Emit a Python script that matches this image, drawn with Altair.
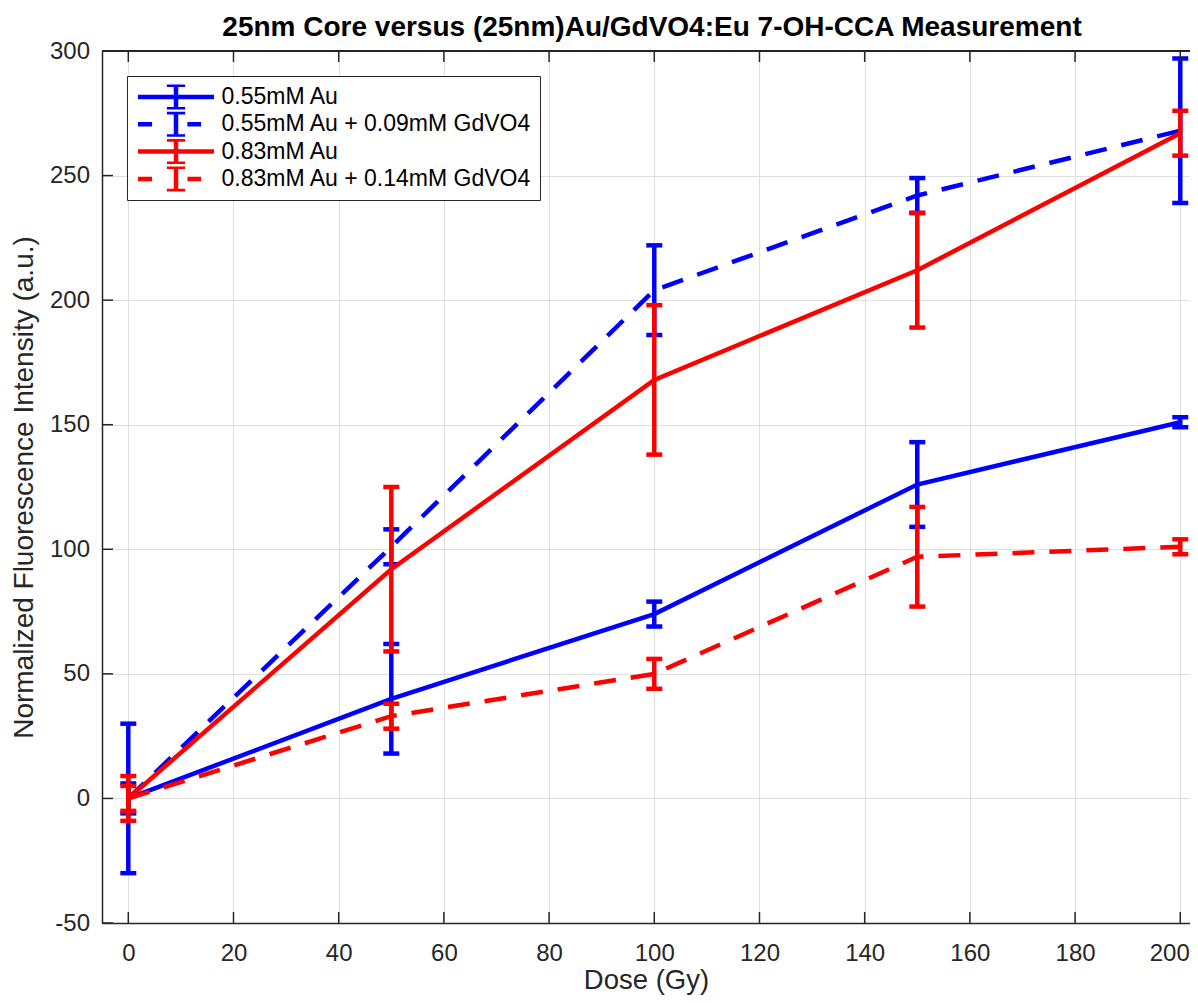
import altair as alt
import pandas as pd

# ---------------- data ----------------
doses = [0, 50, 100, 150, 200]

series_names = [
    "0.55mM Au",
    "0.55mM Au + 0.09mM GdVO4",
    "0.83mM Au",
    "0.83mM Au + 0.14mM GdVO4",
]

au055_mean = [0, 40, 74, 126, 151]
au055_err = [30, 22, 5, 17, 2]

au055_gd_mean = [0, 101, 204, 242, 268]
au055_gd_err = [6, 7, 18, 7, 29]

au083_mean = [0, 92, 168, 212, 267]
au083_err = [9, 33, 30, 23, 9]

au083_gd_mean = [0, 33, 50, 97, 101]
au083_gd_err = [5, 5, 6, 20, 3]

series_colors = ["#0000ff", "#0000ff", "#ff0000", "#ff0000"]
series_dashed = [False, True, False, True]

x_ticks = [0, 20, 40, 60, 80, 100, 120, 140, 160, 180, 200]
y_ticks = [-50, 0, 50, 100, 150, 200, 250, 300]

title_text = "25nm Core versus (25nm)Au/GdVO4:Eu 7-OH-CCA Measurement"
x_title = "Dose (Gy)"
y_title = "Normalized Fluorescence Intensity (a.u.)"

# ---------------- table ----------------
means = [au055_mean, au055_gd_mean, au083_mean, au083_gd_mean]
errs = [au055_err, au055_gd_err, au083_err, au083_gd_err]
rows = []
for name, m, e in zip(series_names, means, errs):
    for d, mv, ev in zip(doses, m, e):
        rows.append({"series": name, "dose": d, "mean": mv, "lo": mv - ev, "hi": mv + ev})
df = pd.DataFrame(rows)

FONT = "Liberation Sans"
AX = "#262626"
LW = 4.5
W = 1088
H = 872

x_scale = alt.Scale(domain=[-5, 201.85], nice=False, zero=False)
y_scale = alt.Scale(domain=[-50, 300], nice=False, zero=False)

x_axis = alt.Axis(
    values=x_ticks, grid=True, gridColor="#dfdfdf", gridWidth=1,
    ticks=False, domain=True, domainColor=AX, domainWidth=1.5,
    labelFont=FONT, labelFontSize=24, labelColor=AX, labelPadding=18,
    labelFlush=False, labelOverlap=False,
    labelOffset={"condition": {"test": "datum.value === 200", "value": -11}, "value": 0},
    title=x_title, titleFont=FONT, titleFontSize=27.5, titleFontWeight="normal",
    titleColor=AX, titleBaseline="alphabetic", titleY=65,
)
y_axis = alt.Axis(
    values=y_ticks, grid=True, gridColor="#dfdfdf", gridWidth=1,
    ticks=False, domain=True, domainColor=AX, domainWidth=1.5,
    labelFont=FONT, labelFontSize=24, labelColor=AX, labelPadding=12.5,
    labelFlush=False, labelOverlap=False, labelExpr="'' + datum.value",
    title=y_title, titleFont=FONT, titleFontSize=28, titleFontWeight="normal",
    titleColor=AX, titlePadding=10.5,
)


def X(field):
    return alt.X(field, scale=x_scale, axis=x_axis)


def Y(field):
    return alt.Y(field, scale=y_scale, axis=y_axis)


layers = []

# series: line + error bars (drawn in MATLAB plotting order)
for name, col, dashed in zip(series_names, series_colors, series_dashed):
    sub = alt.Chart(df).transform_filter(alt.datum.series == name)
    line_kwargs = dict(color=col, strokeWidth=LW)
    if dashed:
        line_kwargs["strokeDash"] = [22, 15]
    layers.append(sub.mark_line(**line_kwargs).encode(x=X("dose:Q"), y=Y("mean:Q")))
    layers.append(
        sub.mark_rule(color=col, strokeWidth=LW).encode(x=X("dose:Q"), y=Y("lo:Q"), y2="hi:Q")
    )
    for fld in ["lo", "hi"]:
        layers.append(
            sub.mark_rule(color=col, strokeWidth=LW, xOffset=-8, x2Offset=8).encode(
                x=X("dose:Q"), x2="dose:Q", y=Y(f"{fld}:Q")
            )
        )

# top frame line and inward tick marks (MATLAB box axes)
xt = pd.DataFrame({"v": x_ticks})
yt = pd.DataFrame({"v": y_ticks})
layers.append(
    alt.Chart(xt).mark_rule(color=AX, strokeWidth=1.5).encode(
        x=alt.value(0), x2=alt.value(W), y=alt.value(0)
    )
)
layers.append(
    alt.Chart(xt).mark_rule(color=AX, strokeWidth=1.5).encode(
        x=X("v:Q"), y=alt.value(H), y2=alt.value(H - 11)
    )
)
layers.append(
    alt.Chart(xt).mark_rule(color=AX, strokeWidth=1.5).encode(
        x=X("v:Q"), y=alt.value(0), y2=alt.value(11)
    )
)
layers.append(
    alt.Chart(yt).mark_rule(color=AX, strokeWidth=1.5).encode(
        y=Y("v:Q"), x=alt.value(0), x2=alt.value(11)
    )
)

# legend carrier (invisible points, custom errorbar-style legend symbols)
solid_sym = "M-1,0H1M0,-0.32V0.32M-0.24,-0.32H0.24M-0.24,0.32H0.24"
dash_sym = "M-1,0H-0.63M0.3,0H0.66M0,-0.32V0.32M-0.24,-0.32H0.24M-0.24,0.32H0.24"
series_shapes = [dash_sym if d else solid_sym for d in series_dashed]

leg = alt.Legend(title=None)
layers.append(
    alt.Chart(df).mark_point(filled=False, strokeWidth=LW, size=0, opacity=1).encode(
        x=X("dose:Q"),
        y=Y("mean:Q"),
        color=alt.Color("series:N", scale=alt.Scale(domain=series_names, range=series_colors), legend=leg),
        shape=alt.Shape("series:N", scale=alt.Scale(domain=series_names, range=series_shapes), legend=leg),
    )
)

chart = alt.layer(*layers).properties(
    width=W,
    height=H,
    autosize=alt.AutoSizeParams(type="none"),
    padding={"left": 94, "top": 43, "right": 0, "bottom": 72},
    title=alt.TitleParams(
        text=title_text, font=FONT, fontSize=28, fontWeight="bold",
        color="black", anchor="middle", offset=9, dy=12, dx=6,
    ),
).configure_view(stroke=None).configure_legend(
    orient="none", legendX=25, legendY=25, direction="vertical",
    padding=8.5, strokeColor=AX, strokeWidth=1, fillColor="white", cornerRadius=0,
    labelFont=FONT, labelFontSize=23, labelColor="black", labelLimit=0,
    symbolSize=5776, symbolStrokeWidth=LW, symbolFillColor="transparent", symbolOpacity=1,
    clipHeight=25, rowPadding=2.3, labelOffset=5, symbolOffset=0,
)

chart.save("out.html", embed_options={"renderer": "svg", "actions": False})
